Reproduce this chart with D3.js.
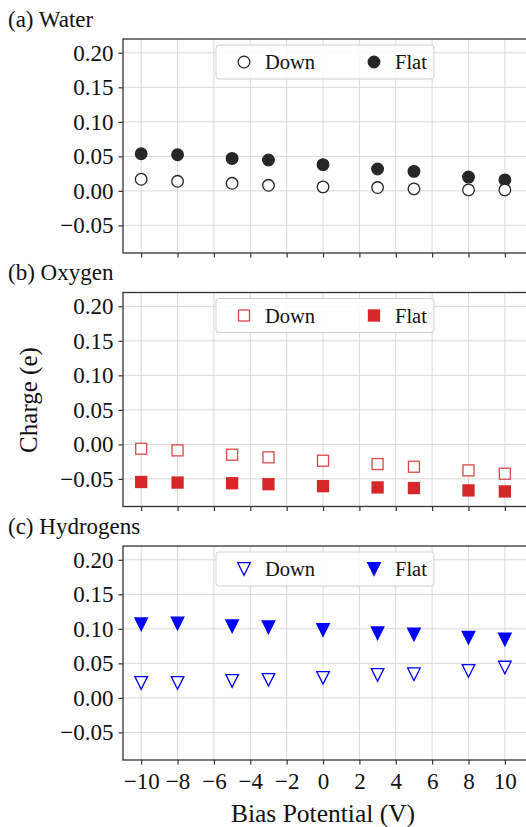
<!DOCTYPE html>
<html><head><meta charset="utf-8">
<script src="https://cdn.jsdelivr.net/npm/d3@7"></script>
</head>
<body style="margin:0;padding:0;background:#fff;"><svg id="chart" width="526" height="827" font-family="Liberation Serif" style="display:block"></svg>
<script>
const biasV = [-10, -8, -5, -3, 0, 3, 5, 8, 10];
const xTicks = [-10, -8, -6, -4, -2, 0, 2, 4, 6, 8, 10];
const yTicks = [-0.05, 0.00, 0.05, 0.10, 0.15, 0.20];
const seriesNames = ["Down", "Flat"];
const panelTitles = ["(a) Water", "(b) Oxygen", "(c) Hydrogens"];
const waterDown = [0.0168, 0.0139, 0.0110, 0.0081, 0.0058, 0.0048, 0.0029, 0.0014, 0.0014];
const waterFlat = [0.0538, 0.0524, 0.0470, 0.0447, 0.0380, 0.0317, 0.0283, 0.0200, 0.0159];
const oxygenDown = [-0.0063, -0.0087, -0.0150, -0.0188, -0.0237, -0.0285, -0.0324, -0.0377, -0.0425];
const oxygenFlat = [-0.0545, -0.0553, -0.0563, -0.0577, -0.0605, -0.0624, -0.0633, -0.0667, -0.0682];
const hydroDown = [0.0217, 0.0217, 0.0246, 0.0261, 0.0290, 0.0333, 0.0342, 0.0390, 0.0439];
const hydroFlat = [0.1067, 0.1077, 0.1038, 0.1023, 0.0985, 0.0936, 0.0917, 0.0870, 0.0845];

const svg = d3.select("#chart");
const left = 123, right = 527.6;
const panelTops = [39, 292.5, 546];
const panelH = 214;
const x = d3.scaleLinear().domain([-11, 11.25]).range([left, right]);
const fmt = v => (v < 0 ? "\u2212" : "") + Math.abs(v).toFixed(2);

const panels = [
  {title: panelTitles[0], down: waterDown, flat: waterFlat, shape: "circle", color: "#262626"},
  {title: panelTitles[1], down: oxygenDown, flat: oxygenFlat, shape: "square", color: "#d62728"},
  {title: panelTitles[2], down: hydroDown, flat: hydroFlat, shape: "tri", color: "#0000ff"}
];

function txt(sel, size) {
  return sel.attr("font-family", "Liberation Serif").attr("font-size", size).attr("fill", "#111");
}

function drawMarker(g, shape, cx, cy, color, filled) {
  const fill = filled ? color : "#fff";
  const sw = 1.3;
  if (shape === "circle") {
    g.append("circle").attr("cx", cx).attr("cy", cy).attr("r", 5.8)
      .attr("fill", fill).attr("stroke", color).attr("stroke-width", sw);
  } else if (shape === "square") {
    const s = 11;
    g.append("rect").attr("x", cx - s/2).attr("y", cy - s/2).attr("width", s).attr("height", s)
      .attr("fill", fill).attr("stroke", color).attr("stroke-opacity", filled ? 1 : 0.85).attr("stroke-width", sw);
  } else {
    const h = 6.3;
    g.append("path").attr("d", `M${cx-h},${cy-h}L${cx+h},${cy-h}L${cx},${cy+h}Z`)
      .attr("fill", fill).attr("stroke", color).attr("stroke-width", sw).attr("stroke-linejoin", "miter");
  }
}

panels.forEach((p, i) => {
  const top = panelTops[i], bottom = top + panelH;
  const y = d3.scaleLinear().domain([-0.09, 0.22]).range([bottom, top]);
  const g = svg.append("g");

  g.selectAll(".gx").data(xTicks).enter().append("line")
    .attr("x1", d => x(d)).attr("x2", d => x(d)).attr("y1", top).attr("y2", bottom)
    .attr("stroke", "#d9d9d9").attr("stroke-width", 1);
  g.selectAll(".gy").data(yTicks).enter().append("line")
    .attr("x1", left).attr("x2", right).attr("y1", d => y(d)).attr("y2", d => y(d))
    .attr("stroke", "#d9d9d9").attr("stroke-width", 1);

  const yAxis = d3.axisLeft(y).tickValues(yTicks).tickFormat(fmt).tickSize(4.5).tickPadding(5);
  const ya = g.append("g").attr("transform", `translate(${left},0)`).call(yAxis);
  const xAxis = d3.axisBottom(x).tickValues(xTicks).tickSize(4.5).tickPadding(8)
    .tickFormat(i === 2 ? (d => (d < 0 ? "\u2212" : "") + Math.abs(d)) : () => "");
  const xa = g.append("g").attr("transform", `translate(0,${bottom})`).call(xAxis);
  [ya, xa].forEach(a => {
    a.attr("font-family", "Liberation Serif").attr("font-size", 23);
    a.select(".domain").remove();
    a.selectAll("line").attr("stroke", "#333").attr("stroke-width", 1.2);
    txt(a.selectAll("text"), 23);
  });
  g.append("rect").attr("x", left).attr("y", top).attr("width", right - left).attr("height", panelH)
    .attr("fill", "none").attr("stroke", "#333").attr("stroke-width", 1.3);

  const pts = g.append("g");
  biasV.forEach((v, k) => drawMarker(pts, p.shape, x(v), y(p.flat[k]), p.color, true));
  biasV.forEach((v, k) => drawMarker(pts, p.shape, x(v), y(p.down[k]), p.color, false));

  const lg = g.append("g");
  lg.append("rect").attr("x", 216).attr("y", top + 6).attr("width", 218).attr("height", 34)
    .attr("rx", 3).attr("fill", "#fff").attr("fill-opacity", 0.85)
    .attr("stroke", "#d0d0d0").attr("stroke-width", 1);
  const ly = top + 23;
  drawMarker(lg, p.shape, 244, ly, p.color, false);
  txt(lg.append("text").attr("x", 265).attr("y", ly + 7).text(seriesNames[0]), 20.5);
  drawMarker(lg, p.shape, 374, ly, p.color, true);
  txt(lg.append("text").attr("x", 395).attr("y", ly + 7).text(seriesNames[1]), 20.5);

  txt(g.append("text").attr("x", 8).attr("y", top - 12.5).text(p.title), 23);
});

txt(svg.append("text").attr("x", (123 + 523) / 2).attr("y", 822).attr("text-anchor", "middle")
  .text("Bias Potential (V)"), 25.5);
txt(svg.append("text").attr("transform", "translate(37,400) rotate(-90)").attr("text-anchor", "middle")
  .text("Charge (e)"), 25);
</script></body></html>
